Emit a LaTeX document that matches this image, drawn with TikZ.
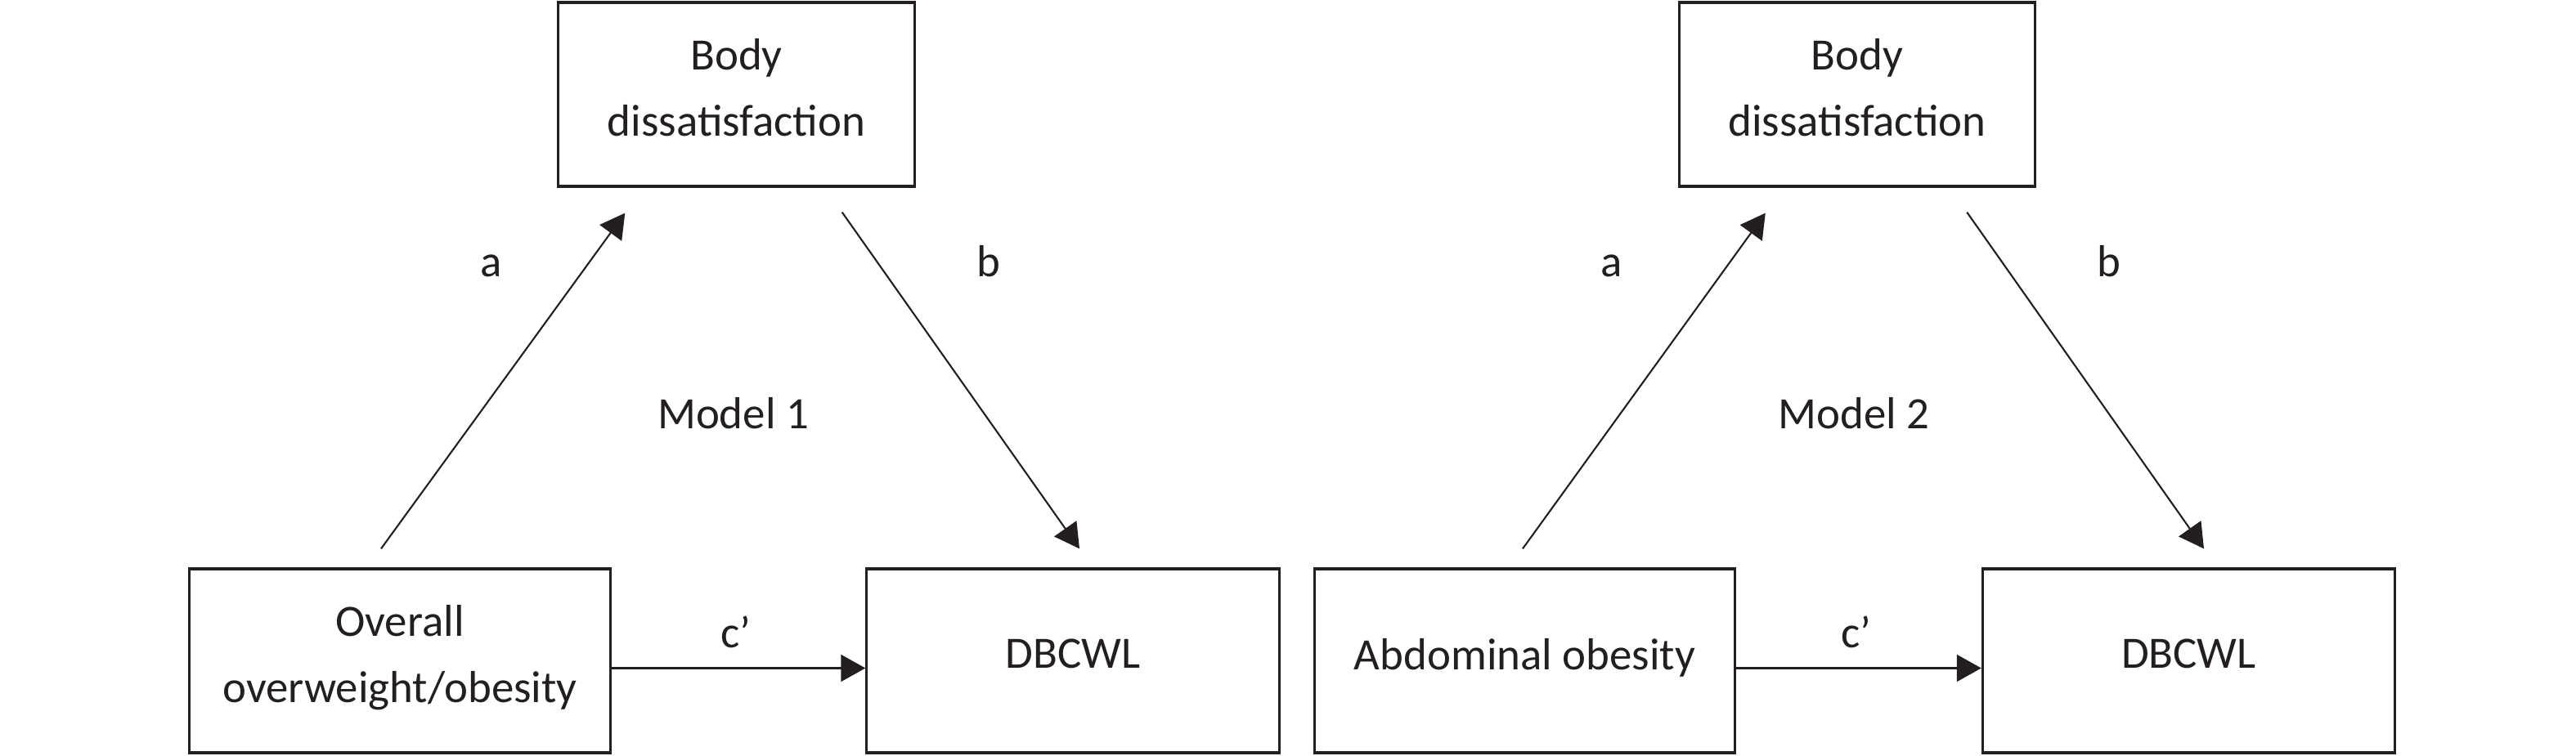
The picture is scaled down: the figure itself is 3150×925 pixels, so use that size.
\documentclass[tikz,border=0pt]{standalone}
\usepackage{fontspec}
\setmainfont{Carlito}
\usetikzlibrary{arrows.meta}
\definecolor{ink}{HTML}{231F20}
\begin{document}
\begin{tikzpicture}[x=0.01cm,y=-0.01cm,every node/.style={text=ink,font=\fontsize{15.6}{22.8}\selectfont},box/.style={draw=ink,line width=0.9pt,inner sep=0pt,align=center,text depth=0.17cm,minimum height=2.25cm},arrow/.style={-{Triangle[length=0.3cm,width=0.33cm]},line width=0.6pt,draw=ink}]
    \useasboundingbox (0,0) rectangle (3150,925);
    \def\mtextone{Overall\\overweight/obesity} %hộp trái, mô hình 1
    \def\mtexttwo{Abdominal obesity} %hộp trái, mô hình 2
    \foreach \m/\xo/\xb/\xd/\mtext/\as/\at/\bs/\bt in {1/489/900.5/1312/\mtextone/-23/83/-90/8,2/1864.5/2271/2676.5/\mtexttwo/-2.5/107/-85/18.5}{
        \node[box,minimum width=4.35cm] (body\m) at (\xb,115.5) {Body\\dissatisfaction};
        \node[box,minimum width=5.14cm] (low\m) at (\xo,808.5) {\mtext};
        \node[box,minimum width=5.04cm] (dbcwl\m) at (\xd,808.5) {DBCWL};
        \draw[arrow] ([xshift=\as*0.01cm,yshift=0.23cm]low\m.north)--([xshift=\at*0.01cm,yshift=-0.31cm]body\m.south west);
        \draw[arrow] ([xshift=\bs*0.01cm,yshift=-0.30cm]body\m.south east)--([xshift=\bt*0.01cm,yshift=0.23cm]dbcwl\m.north);
        \draw[arrow] ([yshift=-0.09cm]low\m.east)--([yshift=-0.09cm]dbcwl\m.west);
        \path node[anchor=base] (a\m) at (\xb-300,339) {a} node[anchor=base] (b\m) at (\xb+308,339) {b}
              node[anchor=base] (c\m) at (\xb-1,793) {c’} node[anchor=base] (model\m) at (\xb-4,525) {Model \m};
    }
\end{tikzpicture}
\end{document}
